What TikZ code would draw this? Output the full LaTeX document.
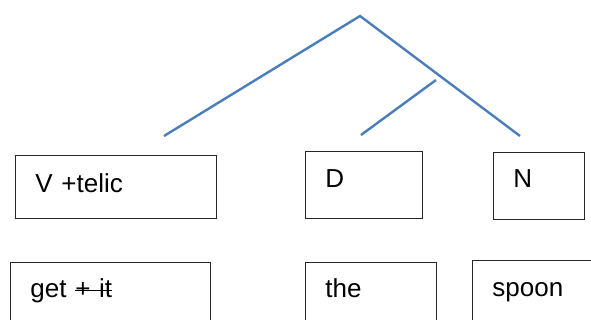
\documentclass[tikz,border=0pt]{standalone}
\usepackage{fontspec}
\setmainfont{Liberation Sans}
\definecolor{treeblue}{HTML}{4A7EBB}
\definecolor{boxline}{HTML}{262626}
\newlength\strklen
\newcommand\mystrike[1]{\settowidth{\strklen}{#1}\rlap{\rule[0.24em]{\strklen}{1.6pt}}#1}
\begin{document}
\begin{tikzpicture}[x=1pt,y=-1pt,
  box/.style={draw=boxline, line width=0.9pt, anchor=north west, inner xsep=20pt,
    inner ysep=0pt, align=left, font=\fontsize{26}{30}\selectfont},
  branch/.style={draw=treeblue, line width=2.4pt}]
\clip (0,0) rectangle (591,320);
\fill[white] (0,0) rectangle (591,320);
% tree
\coordinate (top) at (360,16);
\coordinate (lft) at (164,136);
\coordinate (rgt) at (520,136);
\coordinate (mid) at (436,80);
\coordinate (dpt) at (361,135);
\draw[branch] (lft) -- (top) -- (rgt);
\draw[branch] (mid) -- (dpt);
% category boxes
\node[box, text width=161pt, text height=37pt, text depth=26pt] (v) at (15,155) {V +telic};
\node[box, text width=77pt, text height=36pt, text depth=31pt] (d) at (305,151) {D};
\node[box, text width=51pt, text height=35pt, text depth=32pt] (n) at (493,152) {N};
% word boxes
\node[box, text width=160pt, text height=35pt, text depth=40pt] (get) at (10,262) {get \mystrike{+ it}};
\node[box, text width=91pt, text height=35pt, text depth=40pt] (the) at (305,262) {the};
\node[box, text width=100pt, text height=36pt, text depth=40pt] (spoon) at (472,260) {spoon};
\end{tikzpicture}
\end{document}
